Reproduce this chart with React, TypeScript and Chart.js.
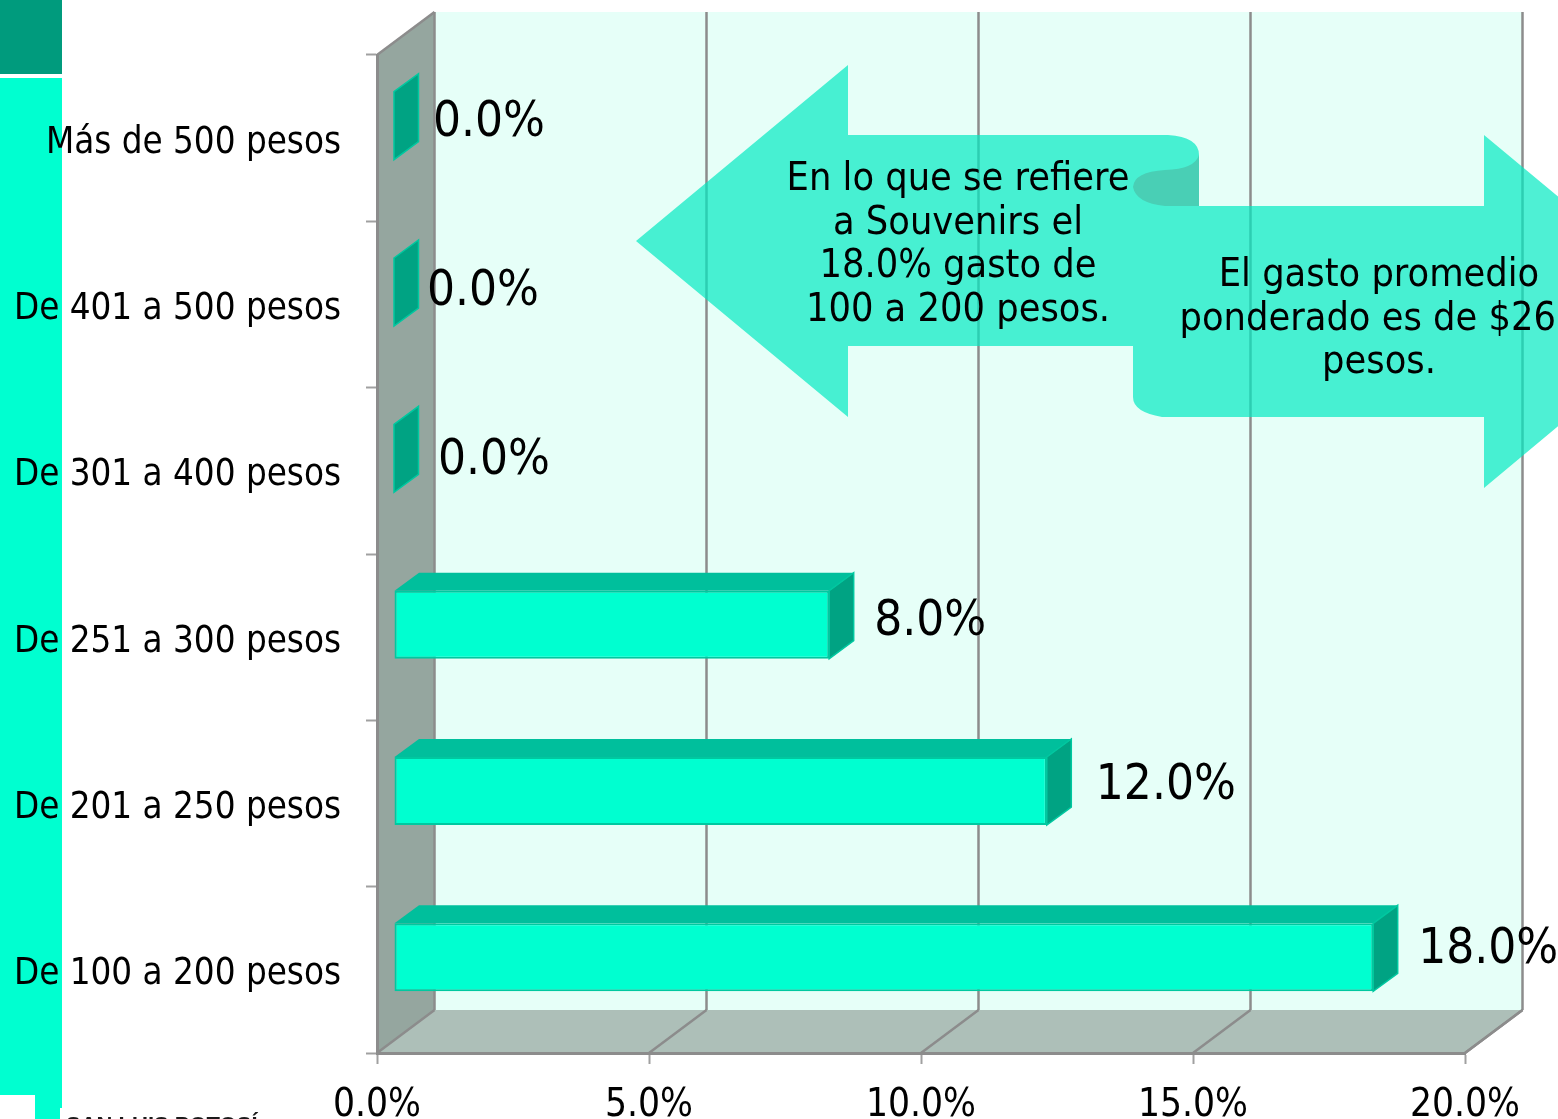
import React, { useEffect, useRef } from "react";
import { Chart, registerables } from "chart.js";

Chart.register(...registerables);

const categories = [
  "Más de 500 pesos",
  "De 401 a 500 pesos",
  "De 301 a 400 pesos",
  "De 251 a 300 pesos",
  "De 201 a 250 pesos",
  "De 100 a 200 pesos",
];
const values = [0, 0, 0, 8, 12, 18];
const valueLabels = ["0.0%", "0.0%", "0.0%", "8.0%", "12.0%", "18.0%"];
const xTickLabels = ["0.0%", "5.0%", "10.0%", "15.0%", "20.0%"];
const labelNudgeX = [56, 50, 61, 62, 66, 62];
const labelNudgeY = [-15, -12.5, -10, -15, -17.5, -20];
const leftCallout = ["En lo que se refiere", "a Souvenirs el", "18.0% gasto de", "100 a 200 pesos."];
const rightCallout = ["El gasto promedio", "ponderado es de $267", "pesos."];
const footerText = "SAN LUIS POTOSÍ";

const FONT = '"DejaVu Sans Condensed", "DejaVu Sans", sans-serif';
const DEPTH_X = 57.5;
const DEPTH_Y = -43;
const BAR_SHIFT_X = 17;
const BAR_SHIFT_Y = -12.5;
const BAR_DEPTH_X = 24.5;
const BAR_DEPTH_Y = -18;
const GRID = "#8c8c8c";

function poly(ctx: CanvasRenderingContext2D, pts: number[][], fill: string) {
  ctx.beginPath();
  pts.forEach((p, i) => (i ? ctx.lineTo(p[0], p[1]) : ctx.moveTo(p[0], p[1])));
  ctx.closePath();
  ctx.fillStyle = fill;
  ctx.fill();
}
function line(ctx: CanvasRenderingContext2D, x1: number, y1: number, x2: number, y2: number, w = 2.5, c = GRID) {
  ctx.beginPath();
  ctx.moveTo(x1, y1);
  ctx.lineTo(x2, y2);
  ctx.lineWidth = w;
  ctx.strokeStyle = c;
  ctx.stroke();
}

const scenePlugin = {
  id: "scene",
  beforeDraw(chart: any) {
    const ctx = chart.ctx as CanvasRenderingContext2D;
    const { left: l, right: r, top: t, bottom: b } = chart.chartArea;
    const dx = DEPTH_X, dy = DEPTH_Y;
    ctx.save();
    // side strip of the slide
    ctx.fillStyle = "#009b7d";
    ctx.fillRect(0, 0, 62, 74);
    ctx.fillStyle = "#00ffd0";
    ctx.fillRect(0, 78, 62, 1017);
    ctx.fillRect(35, 1095, 27, 13);
    ctx.fillRect(35, 1108, 25, 11);
    ctx.fillStyle = "#1a1a1a";
    ctx.font = `bold 22px ${'"Liberation Sans", sans-serif'}`;
    ctx.textBaseline = "alphabetic";
    ctx.textAlign = "left";
    ctx.fillText(footerText, 66, 1132);
    // 3D walls
    poly(ctx, [[l + dx, t + dy], [r + dx, t + dy], [r + dx, b + dy], [l + dx, b + dy]], "#e6fff8");
    poly(ctx, [[l, t], [l + dx, t + dy], [l + dx, b + dy], [l, b]], "#95a69f");
    poly(ctx, [[l, b], [l + dx, b + dy], [r + dx, b + dy], [r, b]], "#adbfb8");
    const xs = chart.scales.x;
    xs.ticks.forEach((tk: any) => {
      const x = xs.getPixelForValue(tk.value);
      line(ctx, x + dx, t + dy, x + dx, b + dy);
      line(ctx, x, b, x + dx, b + dy);
    });
    line(ctx, l, t, l + dx, t + dy);
    ctx.restore();
  },
  beforeDatasetsDraw(chart: any) {
    const ctx = chart.ctx as CanvasRenderingContext2D;
    ctx.save();
    ctx.translate(BAR_SHIFT_X, BAR_SHIFT_Y);
    chart.getDatasetMeta(0).data.forEach((bar: any) => {
      const top = bar.y - bar.height / 2;
      const bottom = bar.y + bar.height / 2;
      const dx = BAR_DEPTH_X, dy = BAR_DEPTH_Y;
      poly(ctx, [[bar.base, top], [bar.base + dx, top + dy], [bar.x + dx, top + dy], [bar.x, top]], "#00bf9c");
      poly(ctx, [[bar.x, top], [bar.x + dx, top + dy], [bar.x + dx, bottom + dy], [bar.x, bottom]], "#00a383");
      ctx.beginPath();
      ctx.moveTo(bar.x, top);
      ctx.lineTo(bar.x + dx, top + dy);
      ctx.lineTo(bar.x + dx, bottom + dy);
      ctx.lineTo(bar.x, bottom);
      ctx.closePath();
      ctx.lineWidth = 1.5;
      ctx.strokeStyle = "#00c8a0";
      ctx.stroke();
    });
  },
  afterDatasetsDraw(chart: any) {
    chart.ctx.restore();
  },
  afterDraw(chart: any) {
    const ctx = chart.ctx as CanvasRenderingContext2D;
    ctx.save();
    const xs = chart.scales.x;
    // front axis edges over the walls
    line(ctx, chart.chartArea.right, chart.chartArea.bottom, chart.chartArea.right + DEPTH_X, chart.chartArea.bottom + DEPTH_Y);
    // value labels
    ctx.fillStyle = "#000";
    ctx.textAlign = "left";
    ctx.textBaseline = "middle";
    ctx.font = `49px ${FONT}`;
    chart.getDatasetMeta(0).data.forEach((bar: any, i: number) => {
      ctx.fillText(valueLabels[i], xs.getPixelForValue(values[i]) + labelNudgeX[i], bar.y + labelNudgeY[i]);
    });
    // curved double arrow callout
    ctx.beginPath();
    ctx.moveTo(636, 241);
    ctx.lineTo(848, 65);
    ctx.lineTo(848, 135);
    ctx.lineTo(1168, 135);
    ctx.quadraticCurveTo(1199, 137, 1199, 155);
    ctx.lineTo(1199, 206);
    ctx.lineTo(1484, 206);
    ctx.lineTo(1484, 135);
    ctx.lineTo(1696, 311);
    ctx.lineTo(1484, 488);
    ctx.lineTo(1484, 417);
    ctx.lineTo(1162, 417);
    ctx.quadraticCurveTo(1133, 412, 1133, 397);
    ctx.lineTo(1133, 346);
    ctx.lineTo(848, 346);
    ctx.lineTo(848, 417);
    ctx.closePath();
    ctx.fillStyle = "rgba(3,234,194,0.7)";
    ctx.fill();
    ctx.beginPath();
    ctx.moveTo(1199, 155);
    ctx.quadraticCurveTo(1195, 169, 1165, 170);
    ctx.quadraticCurveTo(1134, 172, 1133, 187);
    ctx.quadraticCurveTo(1136, 203, 1165, 206);
    ctx.lineTo(1199, 206);
    ctx.closePath();
    ctx.fillStyle = "#49cfb5";
    ctx.fill();
    // callout text
    ctx.fillStyle = "#000";
    ctx.textAlign = "center";
    ctx.font = `39.3px ${FONT}`;
    leftCallout.forEach((s, i) => ctx.fillText(s, 958, 180 + i * 43.5));
    rightCallout.forEach((s, i) => ctx.fillText(s, 1379, 276 + i * 43.5));
    ctx.restore();
  },
};

export default function App() {
  const ref = useRef<HTMLCanvasElement>(null);
  useEffect(() => {
    const chart = new Chart(ref.current!, {
      type: "bar",
      data: {
        labels: categories,
        datasets: [
          {
            data: values,
            backgroundColor: "#00ffd0",
            borderColor: "#00c8a0",
            borderWidth: 2,
            borderSkipped: false,
            barPercentage: 0.409,
            categoryPercentage: 1,
          },
        ],
      },
      options: {
        indexAxis: "y",
        responsive: false,
        animation: false,
        layout: { padding: { top: 55, right: 93, left: 0, bottom: 0 } },
        plugins: { legend: { display: false }, tooltip: { enabled: false }, title: { display: false } },
        scales: {
          x: {
            type: "linear",
            min: 0,
            max: 20,
            ticks: {
              stepSize: 5,
              color: "#000",
              font: { family: FONT, size: 38.5 },
              padding: 19,
              maxRotation: 0,
              callback: (_v: any, i: number) => xTickLabels[i],
            },
            grid: { drawOnChartArea: false, drawTicks: true, tickLength: 11, tickColor: "#a0a0a0", tickWidth: 2 },
            border: { color: GRID, width: 3 },
            afterFit: (s: any) => { s.height = 66; },
          },
          y: {
            type: "category",
            ticks: {
              color: "#000",
              font: { family: FONT, size: 36.4 },
              padding: 25,
              labelOffset: 5,
              autoSkip: false,
            },
            grid: { offset: true, drawOnChartArea: false, drawTicks: true, tickLength: 11, tickColor: "#a0a0a0", tickWidth: 2 },
            border: { color: GRID, width: 3 },
            afterFit: (s: any) => { s.width = 377; },
          },
        },
      },
      plugins: [scenePlugin],
    } as any);
    return () => chart.destroy();
  }, []);
  return (
    <div style={{ position: "absolute", left: 0, top: 0, width: 1558, height: 1119, overflow: "hidden", background: "#fff" }}>
      <canvas ref={ref} width={1558} height={1119} style={{ display: "block" }} />
    </div>
  );
}
